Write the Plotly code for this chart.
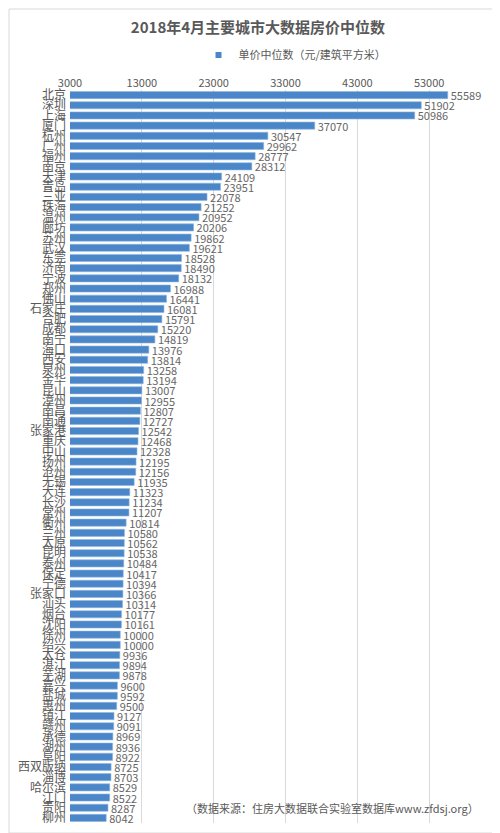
import plotly.graph_objects as go

cities = ["北京", "深圳", "上海", "厦门", "杭州", "广州", "福州", "南京", "天津", "青岛",
          "三亚", "珠海", "温州", "廊坊", "苏州", "武汉", "东莞", "济南", "宁波", "郑州",
          "佛山", "石家庄", "合肥", "成都", "南宁", "海口", "西安", "泉州", "金华", "昆山",
          "漳州", "南昌", "南通", "张家港", "重庆", "中山", "扬州", "沧州", "无锡", "大连",
          "长沙", "常州", "衢州", "兰州", "太原", "昆明", "泰州", "保定", "宁德", "张家口",
          "汕头", "烟台", "沈阳", "徐州", "绍兴", "太仓", "湛江", "芜湖", "嘉兴", "盐城",
          "惠州", "镇江", "赣州", "承德", "湖州", "阜阳", "西双版纳", "淄博", "哈尔滨", "江门",
          "贵阳", "柳州"]
prices = [55589, 51902, 50986, 37070, 30547, 29962, 28777, 28312, 24109, 23951,
          22078, 21252, 20952, 20206, 19862, 19621, 18528, 18490, 18132, 16988,
          16441, 16081, 15791, 15220, 14819, 13976, 13814, 13258, 13194, 13007,
          12955, 12807, 12727, 12542, 12468, 12328, 12195, 12156, 11935, 11323,
          11234, 11207, 10814, 10580, 10562, 10538, 10484, 10417, 10394, 10366,
          10314, 10177, 10161, 10000, 10000, 9936, 9894, 9878, 9600, 9592,
          9500, 9127, 9091, 8969, 8936, 8922, 8725, 8703, 8529, 8522,
          8287, 8042]
x_ticks = [3000, 13000, 23000, 33000, 43000, 53000]

FONT = "Noto Sans CJK SC"
GREY = "#595959"
BLUE = "#4a86c8"
SERIES = "单价中位数（元/建筑平方米）"

fig = go.Figure()
fig.add_trace(go.Bar(
    x=prices, y=cities, orientation="h", name=SERIES, showlegend=False,
    marker=dict(color=BLUE, line=dict(color="#8fb6e0", width=0.6)),
    text=[str(v) for v in prices], textposition="outside", constraintext="none",
    textfont=dict(size=11, color="#666666", family=FONT),
    cliponaxis=False,
))
# small square legend entry
fig.add_trace(go.Scatter(
    x=[None], y=[None], mode="markers", name=SERIES,
    marker=dict(symbol="square", size=6, color=BLUE),
))

# plot area in pixels: x 62..493, y 82..815
def px(x):
    return (x - 62) / 431

def py(y):
    return (815 - y) / 733

fig.update_layout(
    width=500, height=833,
    margin=dict(l=62, r=7, t=82, b=18),
    paper_bgcolor="white", plot_bgcolor="white",
    font=dict(family=FONT, color=GREY),
    bargap=0.3,
    title=dict(text="<b>2018年4月主要城市大数据房价中位数</b>",
               x=0.5, xanchor="center", y=1 - 20 / 833, yanchor="middle",
               font=dict(size=15, color=GREY, family=FONT)),
    showlegend=True,
    legend=dict(orientation="h", x=px(287), xanchor="center", y=py(47), yanchor="middle",
                font=dict(size=11, color=GREY, family=FONT),
                itemwidth=30, bgcolor="rgba(0,0,0,0)"),
    xaxis=dict(side="top", range=[3000, 63000], tickvals=x_ticks,
               ticktext=[str(t) for t in x_ticks],
               showgrid=True, gridcolor="#d9d9d9", gridwidth=1,
               zeroline=False, showline=False, ticks="",
               tickfont=dict(size=11, color=GREY, family=FONT)),
    yaxis=dict(autorange="reversed", tickmode="array", tickvals=cities, ticktext=cities,
               showgrid=False, showline=False, ticks="",
               tickfont=dict(size=12, color=GREY, family=FONT), ticklabelstandoff=3),
    annotations=[dict(text="（数据来源：住房大数据联合实验室数据库www.zfdsj.org）",
                      xref="paper", yref="paper", x=px(324), y=py(800),
                      xanchor="center", yanchor="middle", showarrow=False,
                      font=dict(size=11, color=GREY, family=FONT))],
    shapes=[dict(type="rect", xref="paper", yref="paper",
                 x0=px(1), x1=px(498.5), y0=py(825), y1=py(1),
                 line=dict(color="#d9d9d9", width=1), layer="below")],
)

fig.write_html("out.html")
